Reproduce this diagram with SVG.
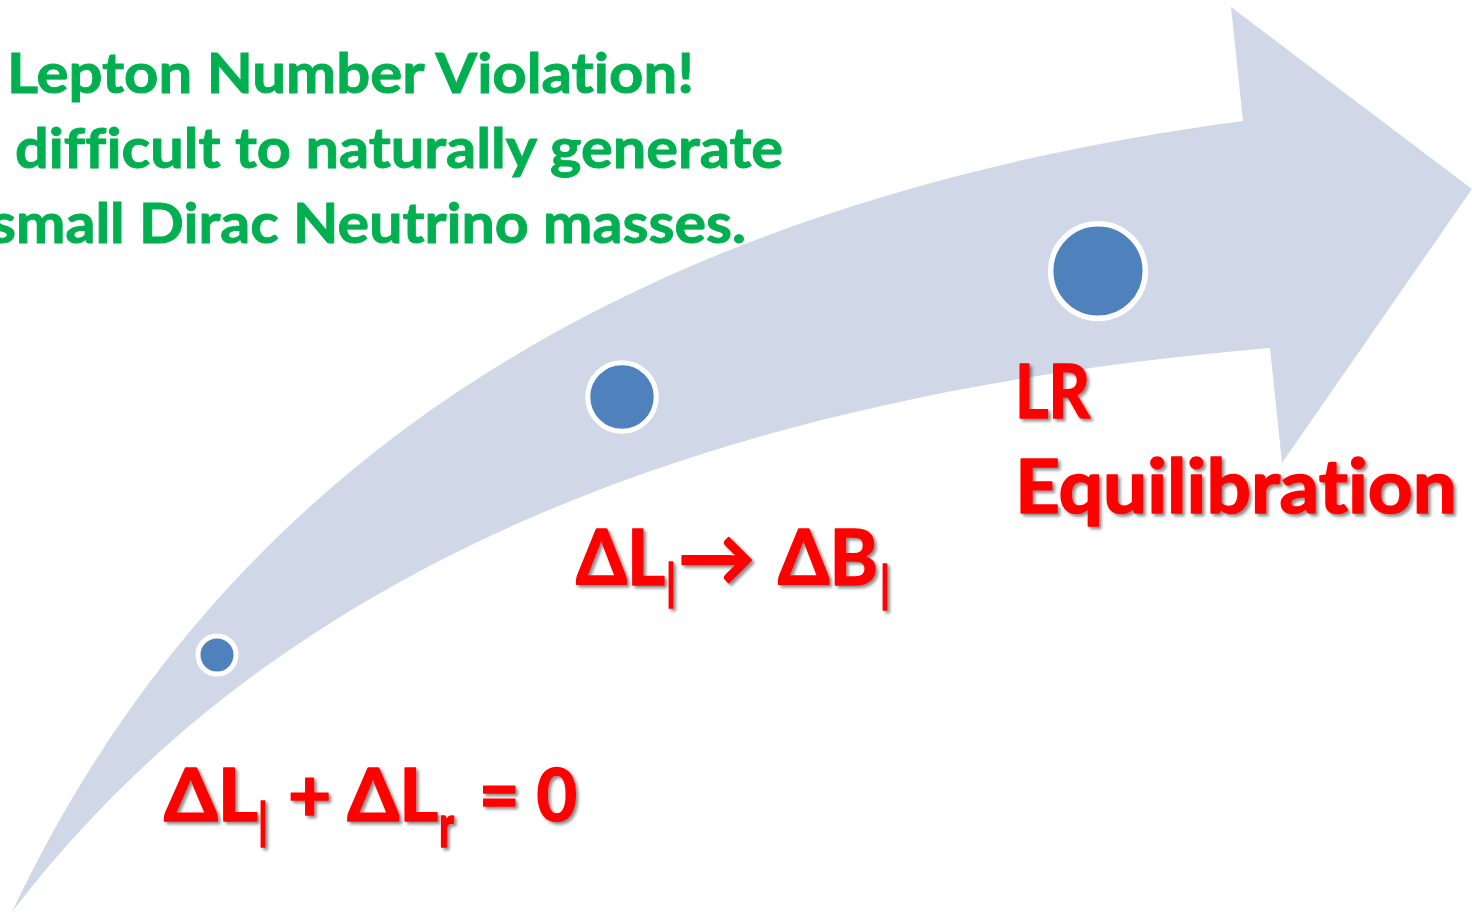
<svg xmlns="http://www.w3.org/2000/svg" width="1472" height="916" viewBox="0 0 1472 916">
  <defs>
    <filter id="shadow" x="-10%" y="-10%" width="130%" height="140%">
      <feDropShadow dx="2.5" dy="2.5" stdDeviation="1.6" flood-color="#000000" flood-opacity="0.45"/>
    </filter>
    <style>
      text { font-variant-ligatures: none; font-feature-settings: "liga" 0, "clig" 0; }
      .green { font-family: Lato, "Noto Sans", "DejaVu Sans", sans-serif; font-weight: 700; font-size: 56px; fill: #00B050; stroke: #00B050; stroke-width: 0.9px; }
      .red { font-family: Lato, "Noto Sans", "DejaVu Sans", sans-serif; font-weight: 700; fill: #FF0000; stroke: #FF0000; stroke-width: 1.6px; stroke-linejoin: round; filter: url(#shadow); }
      .dot { fill: #4F81BD; stroke: #FFFFFF; }
    </style>
  </defs>
  <rect width="1472" height="916" fill="#FFFFFF"/>

  <g id="connectors">
    <path id="big-arrow" d="M 12,912 C 230,450 650,200 1243,121 L 1231,7 L 1472,189 L 1282,463 L 1270,348 C 650,400 250,600 12,912 Z" fill="#D0D8E8"/>
  </g>

  <g id="title">
    <text class="green" x="7" y="93" textLength="687" lengthAdjust="spacingAndGlyphs">Lepton Number Violation!</text>
    <text class="green" x="15" y="168" textLength="768" lengthAdjust="spacingAndGlyphs">difficult to naturally generate</text>
    <text class="green" x="-10" y="243" textLength="756" lengthAdjust="spacingAndGlyphs">small Dirac Neutrino masses.</text>
  </g>

  <g id="node-1">
    <circle class="dot" cx="217" cy="655" r="19" stroke-width="5"/>
    <g class="red">
      <text x="164" y="821" font-size="72" textLength="94" lengthAdjust="spacingAndGlyphs">ΔL</text>
      <text x="259" y="847" font-size="62" textLength="8" lengthAdjust="spacingAndGlyphs">l</text>
      <text x="288" y="821" font-size="72" textLength="150" lengthAdjust="spacingAndGlyphs">+ ΔL</text>
      <text x="439" y="847" font-size="60" textLength="15" lengthAdjust="spacingAndGlyphs">r</text>
      <text x="479" y="821" font-size="72" textLength="98" lengthAdjust="spacingAndGlyphs">= 0</text>
    </g>
  </g>

  <g id="node-2">
    <circle class="dot" cx="622" cy="397" r="34.2" stroke-width="5"/>
    <g class="red">
      <text x="576" y="585" font-size="77" textLength="89" lengthAdjust="spacingAndGlyphs">ΔL</text>
      <text x="667" y="608" font-size="62" textLength="8" lengthAdjust="spacingAndGlyphs">l</text>
      <text x="678" y="585" font-size="77" textLength="77" lengthAdjust="spacingAndGlyphs">→</text>
      <text x="778" y="585" font-size="77" textLength="100" lengthAdjust="spacingAndGlyphs">ΔB</text>
      <text x="881" y="610" font-size="62" textLength="8" lengthAdjust="spacingAndGlyphs">l</text>
    </g>
  </g>

  <g id="node-3">
    <circle class="dot" cx="1098" cy="271" r="47.3" stroke-width="5.5"/>
    <g class="red">
      <text x="1015" y="418" font-size="75" textLength="75" lengthAdjust="spacingAndGlyphs">LR</text>
      <text x="1015" y="513" font-size="75" textLength="442" lengthAdjust="spacingAndGlyphs">Equilibration</text>
    </g>
  </g>
</svg>
